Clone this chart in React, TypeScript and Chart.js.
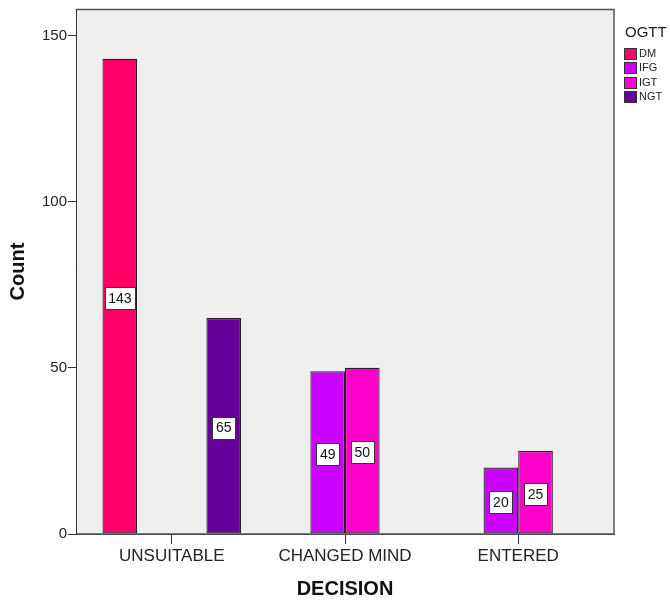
import React, { useEffect, useRef } from "react";
import { Chart, registerables } from "chart.js";

Chart.register(...registerables);

const categories = ["UNSUITABLE", "CHANGED MIND", "ENTERED"];
const seriesNames = ["DM", "IFG", "IGT", "NGT"];
const dmValues = [143, null, null];
const ifgValues = [null, 49, 20];
const igtValues = [null, 50, 25];
const ngtValues = [65, null, null];
const seriesColors = ["#FF0066", "#CC00FF", "#FF00CC", "#660099"];
const yTicks = [0, 50, 100, 150];
const legendTitle = "OGTT";
const xTitle = "DECISION";
const yTitle = "Count";

const FONT = 'Arial, "Liberation Sans", sans-serif';

export default function App() {
  const ref = useRef<HTMLCanvasElement>(null);

  useEffect(() => {
    if (!ref.current) return;
    const allValues = [dmValues, ifgValues, igtValues, ngtValues];
    const datasets = allValues.map((vals, si) => ({
      label: seriesNames[si],
      data: vals.map((v, i) => ({ x: i + 1, y: v })),
      backgroundColor: seriesColors[si],
      borderColor: "#222222",
      borderWidth: 1.2,
      borderSkipped: false,
      categoryPercentage: 0.8,
      barPercentage: 1.0,
    }));

    const bgPlugin = {
      id: "bgPlugin",
      beforeDraw(chart: any) {
        const { ctx, chartArea: a } = chart;
        ctx.save();
        ctx.fillStyle = "#EFEFEF";
        ctx.fillRect(a.left, a.top, a.right - a.left, a.bottom - a.top);
        ctx.restore();
      },
      afterDatasetsDraw(chart: any) {
        const { ctx, chartArea: a } = chart;
        const yScale = chart.scales.y;
        ctx.save();
        // frame
        ctx.strokeStyle = "#555555";
        ctx.lineWidth = 1.5;
        ctx.beginPath();
        ctx.moveTo(a.left, a.top + 0.5);
        ctx.lineTo(a.right, a.top + 0.5);
        ctx.lineTo(a.right, a.bottom);
        ctx.lineTo(a.left, a.bottom);
        ctx.stroke();
        ctx.strokeStyle = "#333333";
        ctx.lineWidth = 1;
        ctx.beginPath();
        ctx.moveTo(a.left + 0.5, a.top);
        ctx.lineTo(a.left + 0.5, a.bottom);
        ctx.stroke();
        // value labels
        ctx.font = "14px " + FONT;
        ctx.textAlign = "center";
        ctx.textBaseline = "middle";
        chart.data.datasets.forEach((ds: any, di: number) => {
          const meta = chart.getDatasetMeta(di);
          meta.data.forEach((el: any, i: number) => {
            const v = ds.data[i].y;
            if (v === null || v === undefined) return;
            const cx = el.x;
            const cy = yScale.getPixelForValue(v / 2) + 1.5;
            const text = String(v);
            const tw = ctx.measureText(text).width;
            const w = Math.round(tw + 7);
            const h = 22;
            const x0 = Math.round(cx - w / 2) + 0.5;
            const y0 = Math.round(cy - h / 2) + 0.5;
            ctx.fillStyle = "#FFFFFF";
            ctx.fillRect(x0, y0, w, h);
            ctx.strokeStyle = "#333333";
            ctx.lineWidth = 1;
            ctx.strokeRect(x0, y0, w, h);
            ctx.fillStyle = "#111111";
            ctx.fillText(text, cx, cy + 1);
          });
        });
        ctx.restore();
      },
      afterDraw(chart: any) {
        const { ctx } = chart;
        ctx.save();
        ctx.fillStyle = "#222222";
        ctx.textAlign = "left";
        ctx.textBaseline = "middle";
        ctx.font = "15px " + FONT;
        ctx.fillText(legendTitle, 625, 33);
        ctx.font = "11px " + FONT;
        seriesNames.forEach((name, i) => {
          const cy = 53.5 + i * 14.3;
          ctx.fillStyle = seriesColors[i];
          ctx.fillRect(624.5, Math.round(cy - 5.5) + 0.5, 12, 11);
          ctx.strokeStyle = "#333333";
          ctx.lineWidth = 1;
          ctx.strokeRect(624.5, Math.round(cy - 5.5) + 0.5, 12, 11);
          ctx.fillStyle = "#222222";
          ctx.fillText(name, 639, cy + 0.5);
        });
        ctx.restore();
      },
    };

    const chart = new Chart(ref.current, {
      type: "bar",
      data: { datasets: datasets as any },
      plugins: [bgPlugin],
      options: {
        responsive: false,
        animation: false,
        layout: { padding: { top: 9, right: 56, left: 0, bottom: 0 } },
        plugins: {
          legend: { display: false },
          tooltip: { enabled: false },
        },
        scales: {
          x: {
            type: "linear",
            min: 1 - 0.553,
            max: 3 + 0.553,
            offset: false,
            afterBuildTicks(scale: any) {
              scale.ticks = categories.map((_, i) => ({ value: i + 1 }));
            },
            afterFit(scale: any) {
              scale.height = 69;
              scale.paddingLeft = 0;
              scale.paddingRight = 0;
            },
            ticks: {
              autoSkip: false,
              maxRotation: 0,
              minRotation: 0,
              padding: 2,
              color: "#222222",
              font: { size: 17, family: FONT },
              callback: (v: any) => categories[Math.round(Number(v)) - 1] ?? "",
            },
            grid: {
              display: true,
              offset: false,
              drawOnChartArea: false,
              drawTicks: true,
              tickLength: 10,
              color: "#333333",
            },
            border: { display: true, color: "#333333", width: 1 },
            title: {
              display: true,
              text: xTitle,
              color: "#111111",
              font: { size: 20, weight: "bold", family: FONT },
              padding: { top: 0, bottom: 2 },
            },
          },
          y: {
            type: "linear",
            min: 0,
            max: 158,
            afterBuildTicks(scale: any) {
              scale.ticks = yTicks.map((v) => ({ value: v }));
            },
            afterFit(scale: any) {
              scale.width = 76;
              scale.paddingTop = 0;
              scale.paddingBottom = 0;
            },
            ticks: {
              padding: 1,
              color: "#222222",
              font: { size: 15, family: FONT },
            },
            grid: {
              display: true,
              drawOnChartArea: false,
              drawTicks: true,
              tickLength: 8,
              color: "#333333",
            },
            border: { display: true, color: "#333333", width: 1 },
            title: {
              display: true,
              text: yTitle,
              color: "#111111",
              font: { size: 20, weight: "bold", family: FONT },
              padding: { top: 6, bottom: 0 },
            },
          },
        },
      } as any,
    });
    return () => chart.destroy();
  }, []);

  return (
    <div style={{ position: "absolute", left: 0, top: 0, width: 670, height: 603, background: "#FFFFFF" }}>
      <canvas ref={ref} width={670} height={603} style={{ display: "block" }} />
    </div>
  );
}
